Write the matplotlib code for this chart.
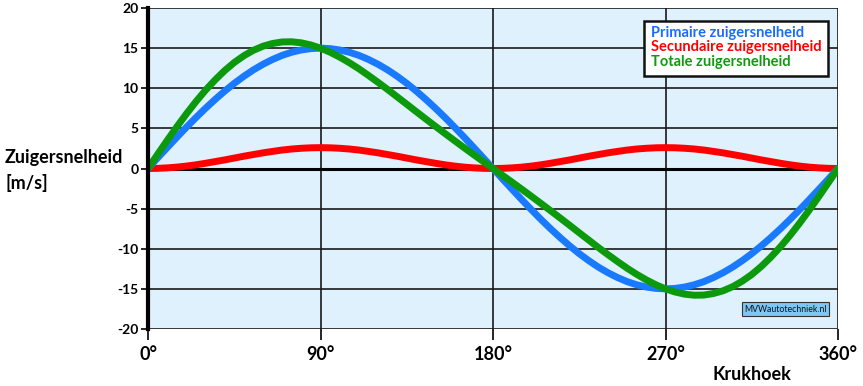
import numpy as np
import matplotlib
matplotlib.use("Agg")
from matplotlib import pyplot as plt

plt.rcParams['font.family'] = ['Lato', 'DejaVu Sans']

# crank angle in degrees, read every 5 degrees
hoek = list(range(0, 361, 5))

primair = [0, 1.31, 2.6, 3.88, 5.13, 6.34, 7.5, 8.6, 9.64, 10.61, 11.49, 12.29,
           12.99, 13.59, 14.1, 14.49, 14.77, 14.94, 15.0, 14.94, 14.77, 14.49,
           14.1, 13.59, 12.99, 12.29, 11.49, 10.61, 9.64, 8.6, 7.5, 6.34, 5.13,
           3.88, 2.6, 1.31, 0,
           -1.31, -2.6, -3.88, -5.13, -6.34, -7.5, -8.6, -9.64, -10.61, -11.49,
           -12.29, -12.99, -13.59, -14.1, -14.49, -14.77, -14.94, -15.0, -14.94,
           -14.77, -14.49, -14.1, -13.59, -12.99, -12.29, -11.49, -10.61, -9.64,
           -8.6, -7.5, -6.34, -5.13, -3.88, -2.6, -1.31, 0]

secundair = [0, 0.02, 0.08, 0.17, 0.3, 0.46, 0.65, 0.86, 1.07, 1.3, 1.53, 1.74,
             1.95, 2.13, 2.3, 2.43, 2.52, 2.58, 2.6, 2.58, 2.52, 2.43, 2.3, 2.13,
             1.95, 1.74, 1.53, 1.3, 1.07, 0.86, 0.65, 0.46, 0.3, 0.17, 0.08, 0.02, 0,
             0.02, 0.08, 0.17, 0.3, 0.46, 0.65, 0.86, 1.07, 1.3, 1.53, 1.74,
             1.95, 2.13, 2.3, 2.43, 2.52, 2.58, 2.6, 2.58, 2.52, 2.43, 2.3, 2.13,
             1.95, 1.74, 1.53, 1.3, 1.07, 0.86, 0.65, 0.46, 0.3, 0.17, 0.08, 0.02, 0]

totaal = [0, 1.76, 3.49, 5.18, 6.8, 8.33, 9.75, 11.04, 12.2, 13.21, 14.05, 14.73,
          15.24, 15.58, 15.77, 15.79, 15.66, 15.39, 15.0, 14.49, 13.88, 13.19,
          12.43, 11.6, 10.74, 9.85, 8.93, 8.01, 7.08, 6.16, 5.25, 4.35, 3.46,
          2.58, 1.71, 0.86, 0,
          -0.86, -1.71, -2.58, -3.46, -4.35, -5.25, -6.16, -7.08, -8.01, -8.93,
          -9.85, -10.74, -11.6, -12.43, -13.19, -13.88, -14.49, -15.0, -15.39,
          -15.66, -15.79, -15.77, -15.58, -15.24, -14.73, -14.05, -13.21, -12.2,
          -11.04, -9.75, -8.33, -6.8, -5.18, -3.49, -1.76, 0]

xticks = [0, 90, 180, 270, 360]
xlabels = ['0°', '90°', '180°', '270°', '360°']
yticks = list(range(-20, 21, 5))

fig = plt.figure(figsize=(8.63, 3.86), dpi=100)
ax = fig.add_axes([148/863, 1 - 329/386, 690/863, 321/386])
ax.set_facecolor('#dff1fc')

ax.set_xlim(0, 360)
ax.set_ylim(-20, 20)
ax.set_xticks(xticks)
ax.set_xticklabels(xlabels, fontsize=13, fontweight='bold')
ax.set_yticks(yticks)
ax.set_yticklabels([str(v) for v in yticks], fontsize=10, fontweight='bold')
ax.tick_params(axis='y', length=5, width=1.2, pad=2)
ax.tick_params(axis='x', length=8, width=1.2, pad=4)

for v in yticks:
    ax.axhline(v, color='#1a1a1a', lw=1.2, zorder=1)
for v in xticks[1:]:
    ax.axvline(v, color='#1a1a1a', lw=1.2, zorder=1)
ax.axhline(0, color='black', lw=2.2, zorder=1)

for s in ['top', 'right', 'bottom']:
    ax.spines[s].set_visible(False)
ax.spines['left'].set_linewidth(3)
ax.spines['left'].set_zorder(5)

kw = dict(lw=5, solid_capstyle='round', solid_joinstyle='round')
ax.plot(hoek, secundair, color='#ff0000', zorder=3, **kw)
ax.plot(hoek, primair, color='#1a7aff', zorder=3, **kw)
ax.plot(hoek, totaal, color='#0c9a0c', zorder=4, **kw)

# legend box as text
ax.text(0.729, 0.922, 'Primaire zuigersnelheid', transform=ax.transAxes,
        fontsize=10.5, fontweight='bold', color='#1a6cff', va='center')
ax.text(0.729, 0.877, 'Secundaire zuigersnelheid', transform=ax.transAxes,
        fontsize=10.5, fontweight='bold', color='#ff0000', va='center')
ax.text(0.729, 0.831, 'Totale zuigersnelheid', transform=ax.transAxes,
        fontsize=10.5, fontweight='bold', color='#109a10', va='center')
box = plt.Rectangle((0.719, 0.788), 0.267, 0.171, transform=ax.transAxes,
                    facecolor='white', edgecolor='#111111', lw=1.8, zorder=6)
ax.add_patch(box)
for t in ax.texts:
    t.set_zorder(7)

ax.text(0.924, 0.062, 'MVWautotechniek.nl', transform=ax.transAxes,
        fontsize=6.3, color='#111111', ha='center', va='center', zorder=7,
        bbox=dict(boxstyle='square,pad=0.25', facecolor='#7ec6f4',
                  edgecolor='#333333', lw=0.8))

fig.text(5/863, 1 - 158/386, 'Zuigersnelheid', fontsize=13, fontweight='bold',
         va='center', ha='left')
fig.text(5/863, 1 - 183/386, '[m/s]', fontsize=13, fontweight='bold',
         va='center', ha='left')
fig.text(752/863, 1 - 375/386, 'Krukhoek', fontsize=13, fontweight='bold',
         va='center', ha='center')

fig.savefig('out.png', dpi=100)
